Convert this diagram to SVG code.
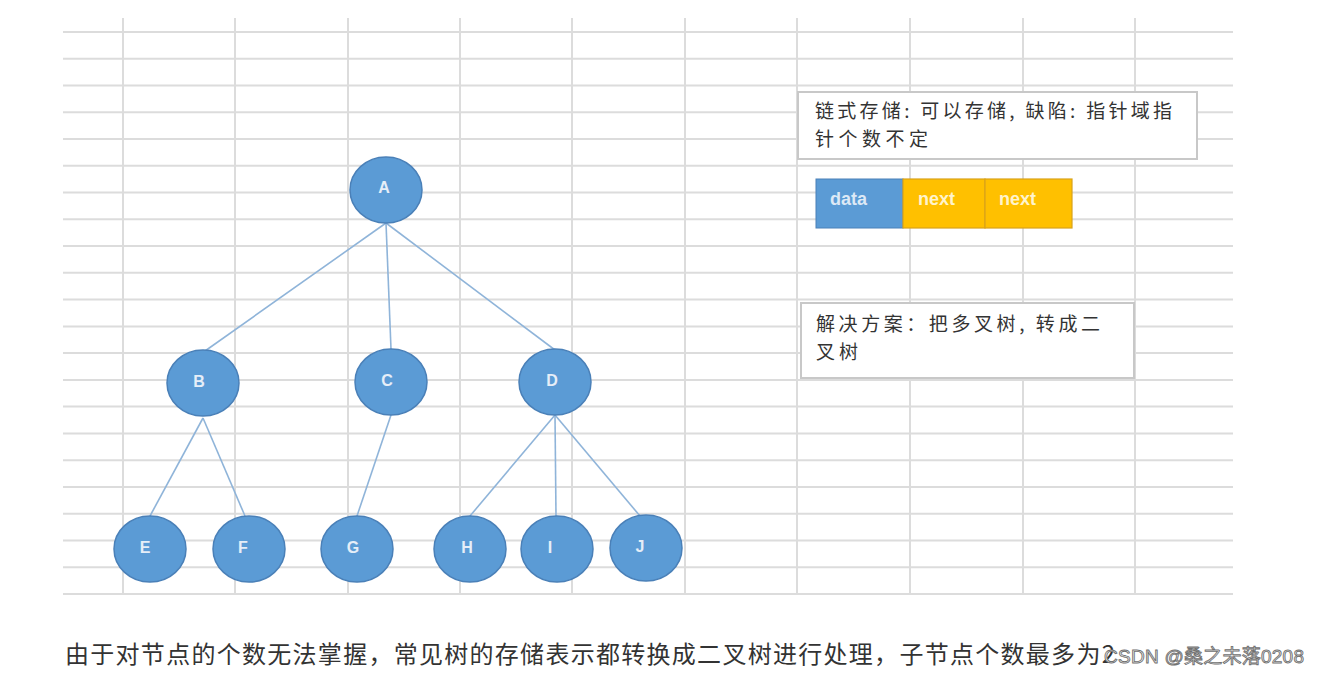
<svg xmlns="http://www.w3.org/2000/svg" width="1319" height="674" viewBox="0 0 1319 674">
<style>
.grid line{stroke:#dcdcdc;stroke-width:2}
.edge{stroke:#8fb4d9;stroke-width:1.6;fill:none}
.node ellipse{fill:#5b9bd5;stroke:#4a80b8;stroke-width:1.5}
.node text{font-family:"Liberation Sans",Arial,sans-serif;font-size:16px;font-weight:bold;fill:#e6eef8;text-anchor:middle}
.cjk{font-family:"Noto Sans CJK SC","Noto Sans",sans-serif;fill:#333}
.box{fill:#fff;stroke:#c8c8c8;stroke-width:2}
.cell{font-family:"Liberation Sans",Arial,sans-serif;font-size:18px;font-weight:bold}
</style>
<rect width="1319" height="674" fill="#fff"/>
<g class="grid" id="grid">
<line x1="63" y1="32" x2="1233" y2="32"/>
<line x1="63" y1="58.8" x2="1233" y2="58.8"/>
<line x1="63" y1="85.5" x2="1233" y2="85.5"/>
<line x1="63" y1="112.3" x2="1233" y2="112.3"/>
<line x1="63" y1="139" x2="1233" y2="139"/>
<line x1="63" y1="165.8" x2="1233" y2="165.8"/>
<line x1="63" y1="192.6" x2="1233" y2="192.6"/>
<line x1="63" y1="219.3" x2="1233" y2="219.3"/>
<line x1="63" y1="246.1" x2="1233" y2="246.1"/>
<line x1="63" y1="272.8" x2="1233" y2="272.8"/>
<line x1="63" y1="299.6" x2="1233" y2="299.6"/>
<line x1="63" y1="326.4" x2="1233" y2="326.4"/>
<line x1="63" y1="353.1" x2="1233" y2="353.1"/>
<line x1="63" y1="379.9" x2="1233" y2="379.9"/>
<line x1="63" y1="406.6" x2="1233" y2="406.6"/>
<line x1="63" y1="433.4" x2="1233" y2="433.4"/>
<line x1="63" y1="460.2" x2="1233" y2="460.2"/>
<line x1="63" y1="486.9" x2="1233" y2="486.9"/>
<line x1="63" y1="513.7" x2="1233" y2="513.7"/>
<line x1="63" y1="540.4" x2="1233" y2="540.4"/>
<line x1="63" y1="567.2" x2="1233" y2="567.2"/>
<line x1="63" y1="594" x2="1233" y2="594"/>
<line x1="123" y1="18" x2="123" y2="594"/>
<line x1="235" y1="18" x2="235" y2="594"/>
<line x1="348" y1="18" x2="348" y2="594"/>
<line x1="460" y1="18" x2="460" y2="594"/>
<line x1="572" y1="18" x2="572" y2="594"/>
<line x1="685" y1="18" x2="685" y2="594"/>
<line x1="797" y1="18" x2="797" y2="594"/>
<line x1="910" y1="18" x2="910" y2="594"/>
<line x1="1023" y1="18" x2="1023" y2="594"/>
<line x1="1135" y1="18" x2="1135" y2="594"/>
</g>
<g id="connectors">
<line class="edge" x1="386" y1="223" x2="205" y2="351"/>
<line class="edge" x1="386" y1="223" x2="391" y2="349"/>
<line class="edge" x1="386" y1="223" x2="555" y2="350"/>
<line class="edge" x1="203" y1="418" x2="150" y2="516"/>
<line class="edge" x1="203" y1="418" x2="245" y2="516"/>
<line class="edge" x1="391" y1="415" x2="357" y2="516"/>
<line class="edge" x1="555" y1="415" x2="470" y2="516"/>
<line class="edge" x1="555" y1="415" x2="556" y2="516"/>
<line class="edge" x1="555" y1="415" x2="640" y2="516"/>
</g>
<g id="node-A" class="node"><ellipse cx="386" cy="190" rx="36" ry="33"/><text x="384" y="193">A</text></g>
<g id="node-B" class="node"><ellipse cx="203" cy="383" rx="36" ry="33"/><text x="199" y="387">B</text></g>
<g id="node-C" class="node"><ellipse cx="391" cy="382" rx="36" ry="33"/><text x="387" y="386">C</text></g>
<g id="node-D" class="node"><ellipse cx="555" cy="382" rx="36" ry="33"/><text x="552" y="386">D</text></g>
<g id="node-E" class="node"><ellipse cx="150" cy="549" rx="36" ry="33"/><text x="145" y="553">E</text></g>
<g id="node-F" class="node"><ellipse cx="249" cy="549" rx="36" ry="33"/><text x="243" y="553">F</text></g>
<g id="node-G" class="node"><ellipse cx="357" cy="549" rx="36" ry="33"/><text x="353" y="553">G</text></g>
<g id="node-H" class="node"><ellipse cx="470" cy="549" rx="36" ry="33"/><text x="467" y="553">H</text></g>
<g id="node-I" class="node"><ellipse cx="557" cy="549" rx="36" ry="33"/><text x="550" y="553">I</text></g>
<g id="node-J" class="node"><ellipse cx="646" cy="548" rx="36" ry="33"/><text x="640" y="552">J</text></g>
<g id="box-linked">
<rect class="box" x="798" y="92" width="399" height="67"/>
<text class="cjk" x="815" y="118" font-size="19" textLength="357" lengthAdjust="spacing">链式存储: 可以存储, 缺陷: 指针域指</text>
<text class="cjk" x="815" y="146" font-size="19" textLength="113" lengthAdjust="spacing">针个数不定</text>
</g>
<g id="node-struct">
<rect x="816" y="179" width="87" height="49" fill="#5b9bd5" stroke="#4a80b8" stroke-width="1"/>
<rect x="903" y="179" width="82" height="49" fill="#ffc000" stroke="#d9a21a" stroke-width="1.2"/>
<rect x="985" y="179" width="87" height="49" fill="#ffc000" stroke="#d9a21a" stroke-width="1.2"/>
<text class="cell" x="830" y="205" fill="#dde9f6">data</text>
<text class="cell" x="918" y="205" fill="#fff4cc">next</text>
<text class="cell" x="999" y="205" fill="#fff4cc">next</text>
</g>
<g id="box-solution">
<rect class="box" x="801" y="303" width="333" height="75"/>
<text class="cjk" x="816" y="331" font-size="19" textLength="284" lengthAdjust="spacing">解决方案：把多叉树, 转成二</text>
<text class="cjk" x="816" y="359" font-size="19" textLength="42" lengthAdjust="spacing">叉树</text>
</g>
<g id="caption">
<text class="cjk" x="65" y="663" font-size="24" fill="#444" textLength="1050" lengthAdjust="spacing">由于对节点的个数无法掌握，常见树的存储表示都转换成二叉树进行处理，子节点个数最多为2</text>
<text x="1104" y="663" font-family="Liberation Sans,'Noto Sans CJK SC',sans-serif" font-size="19" fill="#f4f4f4" stroke="#707070" stroke-width="0.9" textLength="200" lengthAdjust="spacing">CSDN @桑之未落0208</text>
</g>
</svg>
